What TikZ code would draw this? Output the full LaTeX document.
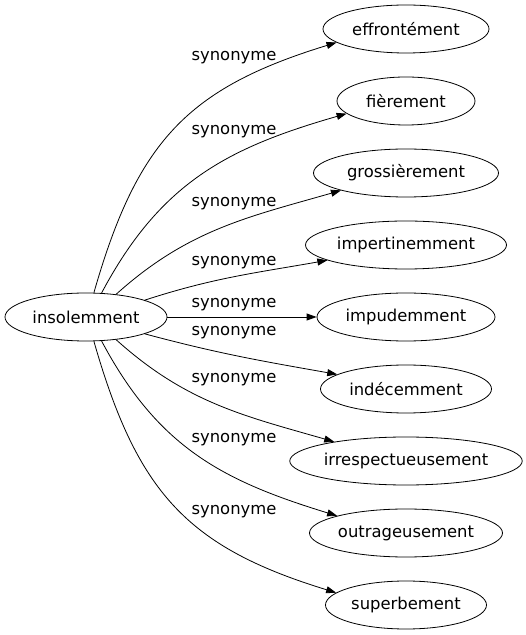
\documentclass[tikz,border=0pt]{standalone}
\usepackage{fontspec}
\setmainfont{DejaVu Sans}
\usetikzlibrary{shapes.geometric,arrows.meta}

\begin{document}
\begin{tikzpicture}[x=1pt,y=1pt,
    word/.style={draw, ellipse, line width=0.8pt, inner sep=0pt, minimum height=48pt, font=\fontsize{16.4}{18}\selectfont},
    syn/.style={-{Triangle[length=10pt,width=7pt]}, line width=0.8pt},
    lbl/.style={inner sep=0pt, font=\fontsize{16.4}{18}\selectfont}]
    % Frame
    \useasboundingbox (0,0) rectangle (526,635);

    % Source word
    \node[word, minimum width=162pt] (ins) at (86,318) {insolemment};

    % Synonyms
    \node[word, minimum width=166pt] (eff) at (406,606) {effrontément};
    \node[word, minimum width=138pt] (fie) at (406,534) {fièrement};
    \node[word, minimum width=185pt] (gro) at (406,462) {grossièrement};
    \node[word, minimum width=201pt] (imp) at (406,390) {impertinemment};
    \node[word, minimum width=178pt] (ipu) at (406,318) {impudemment};
    \node[word, minimum width=171pt] (ind) at (406,246) {indécemment};
    \node[word, minimum width=229pt] (irr) at (406,174) {irrespectueusement};
    \node[word, minimum width=193pt] (out) at (406,102) {outrageusement};
    \node[word, minimum width=161pt] (sup) at (406,30) {superbement};

    % Edges
    \draw[syn] (ins.72) to[out=74,in=197,looseness=1.15] (eff.191);
    \draw[syn] (ins.57) to[out=62,in=196,looseness=1.05] (fie.192);
    \draw[syn] (ins.37) to[out=42,in=196] (gro.195);
    \draw[syn] (ins.16) to[out=18,in=190] (imp.191);
    \draw[syn] (ins) -- (ipu);
    \draw[syn] (ins.-16) to[out=-15,in=170] (ind.168);
    \draw[syn] (ins.-37) to[out=-42,in=164] (irr.165);
    \draw[syn] (ins.-57) to[out=-62,in=163,looseness=1.05] (out.166);
    \draw[syn] (ins.-72) to[out=-74,in=163,looseness=1.15] (sup.170);

    % Labels
    \node[lbl] (l1) at (234,577) {synonyme};
    \node[lbl] (l2) at (234,503) {synonyme};
    \node[lbl] (l3) at (234,431) {synonyme};
    \node[lbl] (l4) at (234,372) {synonyme};
    \node[lbl] (l5) at (234,330) {synonyme};
    \node[lbl] (l6) at (234,302) {synonyme};
    \node[lbl] (l7) at (234,255) {synonyme};
    \node[lbl] (l8) at (234,195) {synonyme};
    \node[lbl] (l9) at (234,123) {synonyme};
\end{tikzpicture}
\end{document}
